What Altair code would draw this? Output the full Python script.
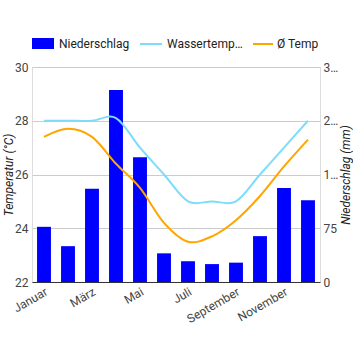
import altair as alt
import pandas as pd

months = ["Januar", "Februar", "März", "April", "Mai", "Juni", "Juli",
          "August", "September", "Oktober", "November", "Dezember"]
precip = [77, 50, 130, 268, 174, 40, 29, 25, 27, 64, 131, 114]
water = [28.0, 28.0, 28.0, 28.1, 27.0, 26.0, 25.0, 25.0, 25.0, 26.0, 27.0, 28.0]
avg_temp = [27.4, 27.7, 27.4, 26.4, 25.5, 24.2, 23.5, 23.7, 24.3, 25.2, 26.3, 27.3]
shown_labels = ["Januar", "März", "Mai", "Juli", "September", "November"]
left_ticks = [22, 24, 26, 28, 30]
right_ticks = [0, 75, 150, 225, 300]

df = pd.DataFrame({"Monat": months, "Niederschlag": precip,
                   "Wassertemperatur": water, "Ø Temp": avg_temp})

FONT = "Roboto"
LBL = "#444444"

xenc = alt.X("Monat:N", sort=months,
             scale=alt.Scale(paddingInner=0.42, paddingOuter=0.21),
             axis=alt.Axis(values=shown_labels, labelAngle=-30, labelAlign="right",
                           labelBaseline="top", title=None, ticks=False,
                           domainColor="#333333", labelColor=LBL, labelFont=FONT,
                           labelFontSize=12, labelPadding=4, grid=False,
                           labelOverlap=False))

base = alt.Chart(df)

bars = base.mark_bar(color="#0000ff").encode(
    x=xenc,
    y=alt.Y("Niederschlag:Q",
            scale=alt.Scale(domain=[0, 300], nice=False, zero=True),
            axis=alt.Axis(orient="right", values=right_ticks, grid=False, ticks=False,
                          domain=False, labelColor=LBL, labelFont=FONT, labelFontSize=12,
                          labelPadding=3,
                          labelExpr="datum.value >= 100 ? slice(toString(datum.value), 0, 1) + '…' : datum.label",
                          title="Niederschlag (mm)", titleFont=FONT, titleFontSize=12,
                          titleFontStyle="italic", titleFontWeight="normal",
                          titleColor="#222222", titleAngle=-90, titleX=25, titleY=107.5,
                          titleAlign="center", titleBaseline="middle")),
)

lines = base.transform_fold(["Wassertemperatur", "Ø Temp"], as_=["key", "value"]).mark_line(
    interpolate="cardinal", strokeWidth=2
).encode(
    x=xenc,
    y=alt.Y("value:Q",
            scale=alt.Scale(domain=[22, 30], nice=False, zero=False),
            axis=alt.Axis(orient="left", values=left_ticks, grid=True, gridColor="#cccccc",
                          ticks=False, domain=False, labelColor=LBL, labelFont=FONT,
                          labelFontSize=12, labelPadding=4,
                          title="Temperatur (°C)", titleFont=FONT, titleFontSize=12,
                          titleFontStyle="italic", titleFontWeight="normal",
                          titleColor="#222222", titleAngle=-90, titleX=-24, titleY=107.5,
                          titleAlign="center", titleBaseline="middle")),
    color=alt.Color("key:N", scale=alt.Scale(domain=["Wassertemperatur", "Ø Temp"],
                                             range=["#7ddcfc", "#ffa500"]), legend=None),
)

one = alt.Data(values=[{"a": 1}])
leg_rect = alt.Chart(one).mark_rect(color="#0000ff").encode(
    x=alt.value(0), x2=alt.value(22), y=alt.value(-29), y2=alt.value(-18))
leg_t1 = alt.Chart(one).mark_text(align="left", baseline="middle", font=FONT, fontSize=12,
                                  color="#222222").encode(
    x=alt.value(27), y=alt.value(-23), text=alt.value("Niederschlag"))
leg_l2 = alt.Chart(one).mark_rule(color="#7ddcfc", strokeWidth=2).encode(
    x=alt.value(108), x2=alt.value(130), y=alt.value(-23))
leg_t2 = alt.Chart(one).mark_text(align="left", baseline="middle", font=FONT, fontSize=12,
                                  color="#222222").encode(
    x=alt.value(135), y=alt.value(-23), text=alt.value("Wassertemp…"))
leg_l3 = alt.Chart(one).mark_rule(color="#ffa500", strokeWidth=2).encode(
    x=alt.value(221), x2=alt.value(241), y=alt.value(-23))
leg_t3 = alt.Chart(one).mark_text(align="left", baseline="middle", font=FONT, fontSize=12,
                                  color="#222222").encode(
    x=alt.value(245), y=alt.value(-23), text=alt.value("Ø Temp"))

chart = alt.layer(
    bars, lines, leg_rect, leg_t1, leg_l2, leg_t2, leg_l3, leg_t3
).resolve_scale(y="independent", color="independent").properties(
    width=288, height=215,
    autosize=alt.AutoSizeParams(type="none"),
    padding={"left": 32, "top": 67, "right": 33, "bottom": 68},
).configure_view(stroke=None).configure(background="white")

chart.save("out.html", embed_options={"renderer": "svg", "actions": False})
